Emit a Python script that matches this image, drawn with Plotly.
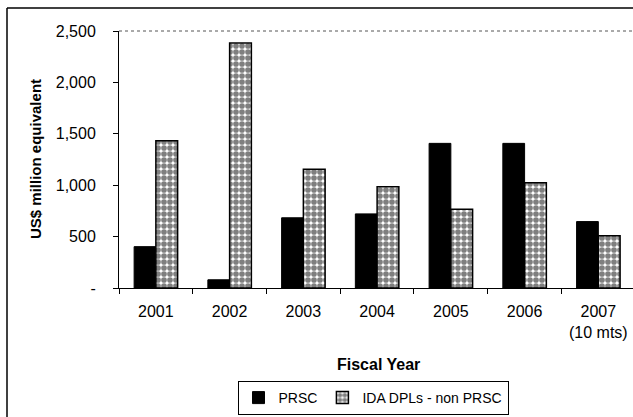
import plotly.graph_objects as go

years = ["2001", "2002", "2003", "2004", "2005", "2006", "2007<br>(10 mts)"]
prsc = [402, 80, 683, 721, 1407, 1407, 646]
ida_non_prsc = [1432, 2384, 1155, 986, 767, 1025, 508]
yticks = [0, 500, 1000, 1500, 2000, 2500]
ytick_labels = ["-", "500", "1,000", "1,500", "2,000", "2,500"]

W, H = 633, 417
L, R, T, B = 119, 0, 31, 129
pw, ph = W - L - R, H - T - B

def px(x):
    return (x - L) / pw

def py(y):
    return (H - B - y) / ph

FONT = "Liberation Sans, Arial, sans-serif"

fig = go.Figure()
fig.add_trace(go.Bar(
    x=years, y=prsc, name="PRSC",
    marker=dict(color="black", line=dict(color="black", width=1)),
))
fig.add_trace(go.Bar(
    x=years, y=ida_non_prsc, name="IDA DPLs - non PRSC",
    marker=dict(color="white", line=dict(color="black", width=1.5),
                pattern=dict(shape=".", fgcolor="black", bgcolor="white",
                             size=6, solidity=0.7)),
))

fig.update_layout(
    width=W, height=H,
    margin=dict(l=L, r=R, t=T, b=B, autoexpand=False),
    paper_bgcolor="white", plot_bgcolor="white",
    barmode="group", bargap=0.41, bargroupgap=0,
    font=dict(family=FONT, size=15, color="black"),
    showlegend=True,
    legend=dict(orientation="h", x=px(373), xanchor="center",
                y=py(381), yanchor="top",
                bordercolor="black", borderwidth=1,
                font=dict(size=14, color="black"),
                itemwidth=30, tracegroupgap=0),
    xaxis=dict(type="category", range=[-0.5, 6.47],
               showline=True, linecolor="black", linewidth=1,
               ticks="outside", ticklen=5, tickcolor="black",
               tickson="boundaries", showgrid=False,
               ticklabelstandoff=9,
               tickfont=dict(size=16)),
    yaxis=dict(range=[0, 2500], tickvals=yticks, ticktext=ytick_labels,
               showline=True, linecolor="black", linewidth=1,
               ticks="outside", ticklen=5, tickcolor="black",
               showgrid=False, zeroline=False,
               ticklabelstandoff=14,
               tickfont=dict(size=16)),
    annotations=[
        dict(text="<b>US$ million equivalent</b>", textangle=-90,
             x=px(35), y=py(159), xref="paper", yref="paper",
             xanchor="center", yanchor="middle",
             showarrow=False, font=dict(size=15, color="black")),
        dict(text="<b>Fiscal Year</b>",
             x=px(378), y=py(364), xref="paper", yref="paper",
             xanchor="center", yanchor="middle",
             showarrow=False, font=dict(size=16, color="black")),
    ],
    shapes=[
        dict(type="line", xref="paper", yref="paper", x0=0, x1=1, y0=1, y1=1,
             line=dict(color="#555555", width=1, dash="dot")),
        dict(type="line", xref="paper", yref="paper", x0=px(7), x1=1,
             y0=py(8), y1=py(8), line=dict(color="black", width=1.5)),
        dict(type="line", xref="paper", yref="paper", x0=px(7), x1=px(7),
             y0=py(8), y1=py(H), line=dict(color="black", width=1.5)),
    ],
)

fig.write_html("out.html", config={"displayModeBar": False},
               post_script="document.body.style.margin='0';document.body.style.overflow='hidden';")
